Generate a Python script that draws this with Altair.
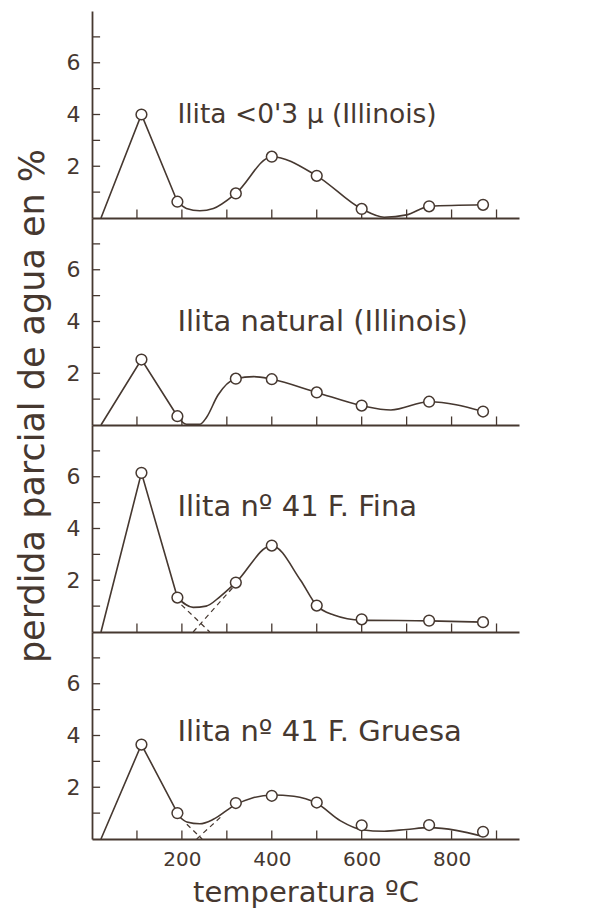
import altair as alt
import pandas as pd

# ---------------- data ----------------
temps = [110, 190, 320, 400, 500, 600, 750, 870]

titles = [
    "Ilita <0'3 μ (Illinois)",
    "Ilita natural (Illinois)",
    "Ilita nº 41 F. Fina",
    "Ilita nº 41 F. Gruesa",
]
title_y = [4.0, 4.0, 4.85, 4.15]
title_size = [26.5, 29, 29, 29]

# measured points (circles)
pts1 = [4.0, 0.63, 0.95, 2.37, 1.63, 0.35, 0.45, 0.51]
pts2 = [2.53, 0.34, 1.79, 1.77, 1.26, 0.75, 0.90, 0.52]
pts3 = [6.15, 1.33, 1.91, 3.34, 1.02, 0.49, 0.44, 0.38]
pts4 = [3.65, 1.00, 1.39, 1.67, 1.41, 0.53, 0.54, 0.28]

# straight segments up to the first peak (temp, value)
st1_t = [20, 110, 190]; st1_v = [0, 4.0, 0.63]
st2_t = [20, 110, 190]; st2_v = [0, 2.53, 0.34]
st3_t = [20, 110, 190]; st3_v = [0, 6.15, 1.33]
st4_t = [20, 110, 195]; st4_v = [0, 3.65, 0.85]

# smooth drawn curve
cv1_t = [190, 210, 240, 270, 320, 400, 500, 600, 650, 700, 750, 870]
cv1_v = [0.63, 0.37, 0.28, 0.37, 0.95, 2.37, 1.63, 0.35, 0.03, 0.12, 0.45, 0.51]
cv2_t = [190, 210, 240, 255, 280, 320, 360, 400, 500, 600, 665, 750, 870]
cv2_v = [0.34, 0.03, 0.03, 0.30, 1.15, 1.79, 1.87, 1.77, 1.26, 0.75, 0.58, 0.90, 0.52]
cv3_t = [190, 225, 254, 285, 320, 400, 464, 500, 538, 600, 750, 870]
cv3_v = [1.33, 0.95, 1.00, 1.37, 1.91, 3.34, 2.00, 1.02, 0.66, 0.46, 0.43, 0.38]
cv4_t = [195, 211, 240, 270, 315, 360, 400, 449, 500, 553, 600, 650, 700, 750, 870]
cv4_v = [0.85, 0.66, 0.59, 0.76, 1.28, 1.60, 1.70, 1.65, 1.38, 0.70, 0.36, 0.30, 0.37, 0.44, 0.10]

# dashed construction lines (panels 3 and 4)
dash3 = [([199, 262], [1.05, 0.0]), ([225, 315], [0.0, 1.75])]
dash4 = [([211, 245], [0.57, 0.0]), ([233, 289], [0.0, 0.89])]

xtick_vals = [100, 200, 300, 400, 500, 600, 700, 800, 900]
ytick_vals = [1, 2, 3, 4, 5, 6, 7]
xlabel_vals = [200, 400, 600, 800]
ylabel_vals = [2, 4, 6]

y_title = "perdida parcial de agua en %"
x_title = "temperatura ºC"

# ---------------- style ----------------
INK = "#463830"
PAPER = "#ffffff"
FONT = "DejaVu Sans"
W, H = 427, 207
XDOM = [0, 950]
YDOM = [0, 8]

xs = alt.Scale(domain=XDOM, nice=False)
ys = alt.Scale(domain=YDOM, nice=False)


def panel(i, pts, st_t, st_v, cv_t, cv_v, dashes, bottom=False, ytitle=False):
    if bottom:
        xaxis = alt.Axis(values=xlabel_vals, ticks=False, grid=False,
                         labelFontSize=20, labelPadding=10, labelColor=INK,
                         labelFont=FONT, title=x_title, titleFontSize=29,
                         titleFont=FONT, titleFontWeight="normal",
                         titleColor=INK, titlePadding=9,
                         domainColor=INK, domainWidth=1.8)
    else:
        xaxis = alt.Axis(labels=False, ticks=False, grid=False, title=None,
                         domainColor=INK, domainWidth=1.8)
    yaxis = alt.Axis(values=ylabel_vals, ticks=False, grid=False, title=None,
                     labelFontSize=22, labelPadding=12, labelColor=INK,
                     labelFont=FONT, domainColor=INK, domainWidth=1.8)

    xt = pd.DataFrame({"t": xtick_vals})
    yt = pd.DataFrame({"v": ytick_vals})
    xticks = alt.Chart(xt).mark_rule(color=INK, strokeWidth=1.3).encode(
        x=alt.X("t:Q", scale=xs, axis=xaxis),
        y=alt.datum(0, scale=ys, axis=yaxis), y2=alt.datum(0.33))
    yticks = alt.Chart(yt).mark_rule(color=INK, strokeWidth=1.3).encode(
        y=alt.Y("v:Q", scale=ys), x=alt.datum(0), x2=alt.datum(18))

    st = pd.DataFrame({"t": st_t, "v": st_v})
    straight = alt.Chart(st).mark_line(color=INK, strokeWidth=1.6).encode(
        x=alt.X("t:Q", scale=xs), y=alt.Y("v:Q", scale=ys))
    cv = pd.DataFrame({"t": cv_t, "v": cv_v})
    curve = alt.Chart(cv).mark_line(color=INK, strokeWidth=1.6,
                                    interpolate="monotone").encode(
        x=alt.X("t:Q", scale=xs), y=alt.Y("v:Q", scale=ys))

    layers = [xticks, yticks, straight, curve]
    for k, (dt, dv) in enumerate(dashes):
        dd = pd.DataFrame({"t": dt, "v": dv})
        layers.append(alt.Chart(dd).mark_line(
            color=INK, strokeWidth=1.2, strokeDash=[5, 4]).encode(
            x=alt.X("t:Q", scale=xs), y=alt.Y("v:Q", scale=ys)))

    pd_ = pd.DataFrame({"t": temps, "v": pts})
    points = alt.Chart(pd_).mark_point(
        shape="circle", size=115, filled=True, fill=PAPER, stroke=INK,
        strokeWidth=1.5, opacity=1).encode(
        x=alt.X("t:Q", scale=xs), y=alt.Y("v:Q", scale=ys))
    layers.append(points)

    td = pd.DataFrame({"t": [190], "v": [title_y[i]], "s": [titles[i]]})
    ttl = alt.Chart(td).mark_text(
        align="left", baseline="middle", font=FONT, fontSize=title_size[i],
        color=INK).encode(x=alt.X("t:Q", scale=xs),
                          y=alt.Y("v:Q", scale=ys), text="s:N")
    layers.append(ttl)

    if ytitle:
        yd = pd.DataFrame({"s": [y_title]})
        layers.append(alt.Chart(yd).mark_text(
            angle=270, align="center", baseline="middle", font=FONT,
            fontSize=35, color=INK).encode(
            x=alt.value(-59), y=alt.value(188), text="s:N"))

    return alt.layer(*layers).properties(width=W, height=H)


p1 = panel(0, pts1, st1_t, st1_v, cv1_t, cv1_v, [])
p2 = panel(1, pts2, st2_t, st2_v, cv2_t, cv2_v, [], ytitle=True)
p3 = panel(2, pts3, st3_t, st3_v, cv3_t, cv3_v, dash3)
p4 = panel(3, pts4, st4_t, st4_v, cv4_t, cv4_v, dash4, bottom=True)

chart = alt.vconcat(p1, p2, p3, p4, spacing=0, bounds="flush").properties(
    background=PAPER,
    padding={"left": 7, "top": 3, "right": 5, "bottom": 5},
).configure_view(stroke=None)

chart.save("out.html", embed_options={"renderer": "svg", "actions": False})
